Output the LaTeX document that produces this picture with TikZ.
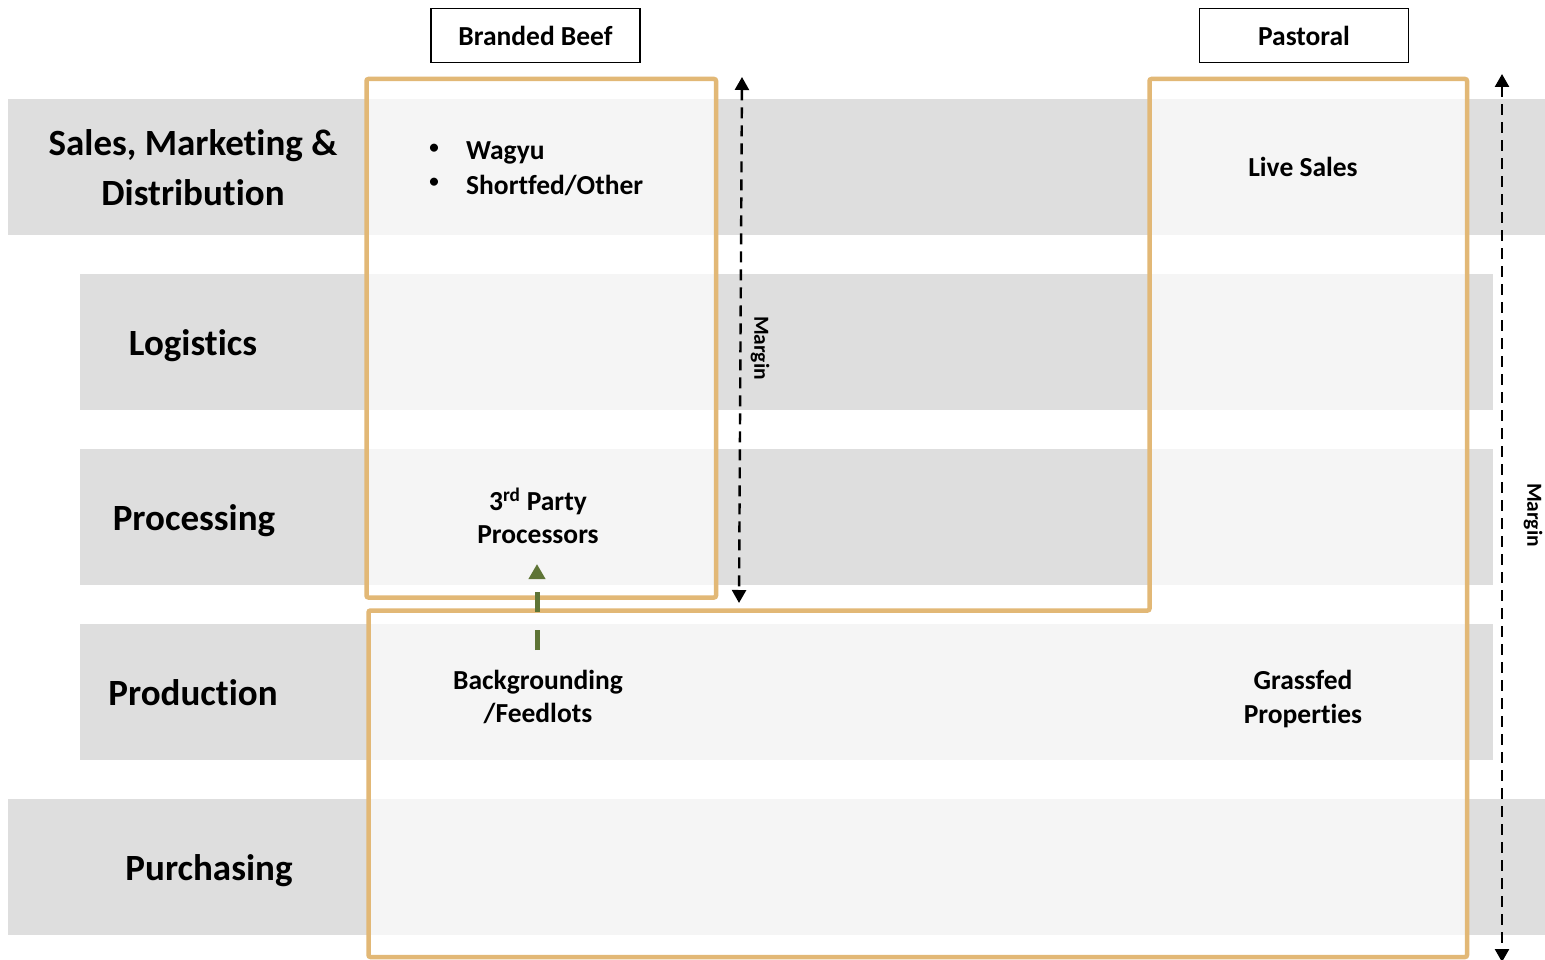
\documentclass[tikz,border=0pt]{standalone}
\usepackage{fontspec}
\setmainfont{Carlito}[Ligatures={NoCommon,NoContextual}]
\usetikzlibrary{arrows.meta}
\definecolor{banddark}{HTML}{DEDEDE}
\definecolor{bandlight}{HTML}{F5F5F5}
\definecolor{boxorange}{HTML}{E2B876}
\definecolor{arrowgreen}{HTML}{5E7436}
\tikzset{
  band/.style={fill=banddark, draw=none},
  lite/.style={fill=bandlight, draw=none},
  segbox/.style={draw=boxorange, line width=4.5pt, rounded corners=2pt},
  hdr/.style={draw=black, line width=1.4pt, minimum width=209pt, minimum height=54pt, inner sep=0pt, font=\fontsize{27.5}{33}\selectfont\bfseries},
  rowlbl/.style={align=center, inner sep=0pt, font=\fontsize{37}{50}\selectfont\bfseries},
  itemlbl/.style={align=center, inner sep=0pt, font=\fontsize{27.5}{33.5}\selectfont\bfseries},
  bulletlbl/.style={inner sep=0pt, font=\fontsize{19}{22}\selectfont\bfseries},
  marginlbl/.style={rotate=-90, inner sep=0pt, font=\fontsize{21.5}{24}\selectfont\bfseries},
  marginarrow/.style={line width=2.4pt, dash pattern=on 11pt off 7pt, {Triangle[width=14pt,length=13pt]}-{Triangle[width=14pt,length=13pt]}},
  greenarrow/.style={draw=arrowgreen, line width=5pt, dash pattern=on 20pt off 18pt, -{Triangle[width=16pt,length=15pt]}, arrowgreen}
}
\begin{document}
\begin{tikzpicture}[x=1pt,y=-1pt]
\useasboundingbox (0,0) rectangle (1545,960);
\fill[white] (0,0) rectangle (1545,960);
% bands
\fill[band] (8,99) rectangle (1545,235);
\fill[band] (80,274) rectangle (1493,410);
\fill[band] (80,449) rectangle (1493,585);
\fill[band] (80,624) rectangle (1493,760);
\fill[band] (8,799) rectangle (1545,935);
% light areas inside boxes
\foreach \ya/\yb in {99/235,274/410,449/585}{
  \fill[lite] (366,\ya) rectangle (716,\yb);
  \fill[lite] (1149,\ya) rectangle (1467,\yb);
}
\fill[lite] (368,624) rectangle (1467,760);
\fill[lite] (368,799) rectangle (1467,935);
% orange outlines
\draw[segbox] (366.5,79) rectangle (716,597.5);
\draw[segbox] (1149.5,79) -- (1467,79) -- (1467,957) -- (368.5,957) -- (368.5,610.5) -- (1149.5,610.5) -- cycle;
% headers
\node[hdr] (bb) at (535.5,35.5) {Branded Beef};
\node[hdr] (past) at (1304,35.5) {Pastoral};
% row labels
\node[rowlbl] (sales) at (193,168) {Sales, Marketing \&\\Distribution};
\node[rowlbl] (logi) at (193,346) {Logistics};
\node[rowlbl] (proc) at (194,521) {Processing};
\node[rowlbl] (prod) at (193,693) {Production};
\node[rowlbl] (purch) at (209,871) {Purchasing};
% items
\node[bulletlbl] (b1) at (434,149) {\textbullet};
\node[bulletlbl] (b2) at (434,183) {\textbullet};
\node[itemlbl, anchor=west] (wagyu) at (466,153) {Wagyu};
\node[itemlbl, anchor=west] (short) at (466,185) {Shortfed/Other};
\node[itemlbl] (live) at (1303,167) {Live Sales};
\node[itemlbl] (third) at (538,516) {3\textsuperscript{rd} Party\\Processors};
\node[itemlbl] (backg) at (538,697) {Backgrounding\\/Feedlots};
\node[itemlbl] (grass) at (1303,699) {Grassfed\\Properties};
% margin arrows
\coordinate (m1top) at (742,77);
\coordinate (m1bot) at (739,603);
\coordinate (m2top) at (1502,74);
\coordinate (m2bot) at (1502,962);
\draw[marginarrow] (m1top) -- (m1bot);
\draw[marginarrow] (m2top) -- (m2bot);
\node[marginlbl] (mlbl1) at (760,348) {Margin};
\node[marginlbl] (mlbl2) at (1533,515) {Margin};
% green dashed arrow
\coordinate (gstart) at (537,650);
\coordinate (gend) at (537,564);
\draw[greenarrow] (gstart) -- (gend);
\end{tikzpicture}
\end{document}
